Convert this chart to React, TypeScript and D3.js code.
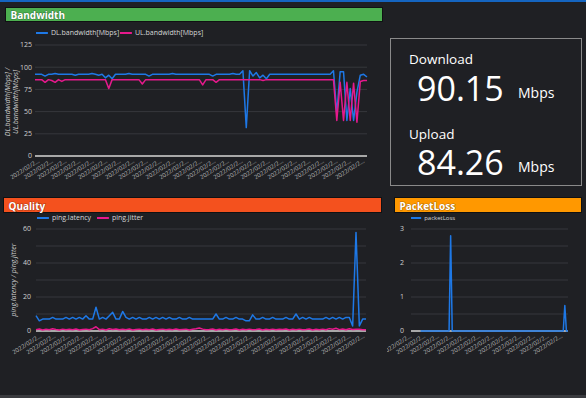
import React from "react";
import * as d3 from "d3";

// ---- Bandwidth (Mbps), one sample per point along the time axis
const dlBandwidth = [
  92, 92, 92, 90, 92, 92, 93, 92, 92, 92,
  92, 92, 91, 92, 92, 92, 92, 93, 92, 91,
  92, 88, 91, 87, 92, 92, 92, 92, 93, 92,
  92, 92, 92, 92, 90, 92, 92, 92, 92, 92,
  92, 93, 92, 92, 92, 92, 92, 92, 92, 92,
  92, 92, 92, 90, 92, 92, 92, 92, 92, 93,
  92, 92, 96, 32, 96, 90, 94, 88, 91, 87,
  92, 92, 92, 92, 92, 92, 92, 92, 92, 92,
  92, 92, 92, 92, 92, 92, 92, 92, 92, 96,
  48, 95, 95, 40, 76, 40, 72, 91, 92, 89,
];
const ulBandwidth = [
  86, 86, 86, 83, 86, 85, 83, 86, 84, 86,
  86, 86, 86, 86, 86, 86, 86, 86, 86, 86,
  86, 86, 76, 86, 86, 86, 86, 86, 86, 86,
  86, 86, 81, 86, 86, 86, 86, 86, 86, 86,
  86, 86, 86, 86, 86, 86, 86, 86, 86, 86,
  80, 86, 86, 86, 83, 86, 86, 86, 86, 86,
  86, 86, 86, 86, 86, 86, 86, 86, 85, 86,
  86, 86, 86, 86, 86, 86, 86, 86, 86, 86,
  86, 86, 86, 86, 86, 86, 86, 86, 86, 86,
  40, 83, 40, 83, 40, 82, 38, 84, 85, 85,
];
const bwTickLabels = [
  "2022/02/2…", "2022/02/2…", "2022/02/2…", "2022/02/2…", "2022/02/2…",
  "2022/02/2…", "2022/02/2…", "2022/02/2…", "2022/02/2…", "2022/02/2…",
  "2022/02/2…", "2022/02/2…", "2022/02/2…", "2022/02/2…", "2022/02/2…",
  "2022/02/2…", "2022/02/2…", "2022/02/2…", "2022/02/2…", "2022/02/2…",
  "2022/02/2…", "2022/02/2…", "2022/02/2…", "2022/02/2…", "2022/02/2…",
];

// ---- Quality (ms)
const pingLatency = [
  9, 6, 7, 7, 7, 8, 7, 7, 7, 8,
  7, 8, 7, 8, 7, 9, 7, 7, 14, 7,
  8, 7, 9, 11, 7, 7, 11.5, 8, 7, 8,
  7, 8, 7, 7, 8, 7, 8, 7, 8, 7,
  8, 7, 7, 8, 7, 7, 8, 7, 7, 7,
  7, 7, 7, 7, 10, 7, 7, 8, 7, 7,
  8, 7, 7, 6, 6, 9.5, 7, 7, 8, 7,
  7, 8, 7, 7, 7, 8, 7, 7, 10, 7,
  8, 7, 8, 7, 7, 7, 7, 8, 7, 8,
  7, 8, 7, 8, 8, 3, 58, 3, 7, 7,
];
const pingJitter = [
  0.8, 1.2, 0.6, 1.0, 0.7, 1.3, 0.9, 0.6, 1.1, 0.8,
  1.0, 0.7, 1.2, 0.6, 0.9, 1.1, 0.7, 1.4, 2.5, 0.8,
  1.1, 0.6, 1.3, 0.9, 1.2, 0.7, 1.0, 0.8, 1.2, 0.6,
  0.9, 1.1, 0.7, 1.0, 0.8, 1.2, 0.6, 0.9, 1.1, 0.7,
  1.0, 0.8, 1.2, 0.7, 0.9, 1.1, 0.6, 1.0, 1.3, 1.8,
  1.1, 0.7, 0.9, 1.2, 0.6, 1.0, 0.8, 1.1, 0.7, 0.9,
  1.2, 0.6, 1.0, 0.8, 1.1, 0.7, 0.9, 1.2, 0.6, 1.0,
  0.8, 1.1, 0.7, 1.0, 0.9, 1.2, 0.6, 1.0, 0.8, 1.1,
  0.7, 0.9, 1.2, 0.6, 1.0, 0.8, 1.1, 0.7, 1.4, 1.0,
  1.6, 0.8, 1.2, 0.7, 1.3, 0.9, 1.1, 1.0, 0.7, 0.8,
];
const qualityTickLabels = [
  "2022/02/2…", "2022/02/2…", "2022/02/2…", "2022/02/2…", "2022/02/2…", "2022/02/2…",
  "2022/02/2…", "2022/02/2…", "2022/02/2…", "2022/02/2…", "2022/02/2…", "2022/02/2…",
  "2022/02/2…", "2022/02/2…", "2022/02/2…", "2022/02/2…", "2022/02/2…", "2022/02/2…",
  "2022/02/2…", "2022/02/2…", "2022/02/2…", "2022/02/2…", "2022/02/2…", "2022/02/2…",
];

// ---- Packet loss (%), series starts a little after the axis start
const packetLoss = [
  null, null, null, null, null, null, 0, 0, 0, 0,
  0, 0, 0, 0, 0, 0, 0, 0, 0, 0,
  0, 0, 0, 0, 0, 2.8, 0, 0, 0, 0,
  0, 0, 0, 0, 0, 0, 0, 0, 0, 0,
  0, 0, 0, 0, 0, 0, 0, 0, 0, 0,
  0, 0, 0, 0, 0, 0, 0, 0, 0, 0,
  0, 0, 0, 0, 0, 0, 0, 0, 0, 0,
  0, 0, 0, 0, 0, 0, 0, 0, 0, 0,
  0, 0, 0, 0, 0, 0, 0, 0, 0, 0,
  0, 0, 0, 0, 0, 0, 0, 0.75, 0, 0,
];
const lossTickLabels = [
  "2022/02/2…", "2022/02/2…", "2022/02/2…", "2022/02/2…", "2022/02/2…", "2022/02/2…",
  "2022/02/2…", "2022/02/2…", "2022/02/2…", "2022/02/2…", "2022/02/2…", "2022/02/2…",
];

// ---- latest values
const statLabels = ["Download", "Upload"];
const statValues = [90.15, 84.26];
const statUnit = "Mbps";

const BG = "#1f2024";
const BLUE = "#1e78e6";
const PINK = "#e6198c";
const FONT = "'Open Sans', 'Noto Sans', sans-serif";

type Series = { name: string; values: (number | null)[]; color: string };

function Header({ x, y, w, h, color, label }) {
  return (
    <g>
      <rect x={x} y={y} width={w} height={h} fill={color} stroke="#101113" strokeWidth={1} />
      <text x={x + 5} y={y + h - 3} fill="#fff" fontSize={10} fontWeight={700} fontFamily={FONT}
        style={{ paintOrder: "stroke" }} stroke="rgba(0,0,0,0.35)" strokeWidth={1}>
        {label}
      </text>
    </g>
  );
}

function LineChart({ id, left, right, top, bottom, yMax, gridStep, labelStep, series, tickLabels,
  tickRange, yLabelX, legendY, legendX, legendFont = 7, titleLines, titleX, titleY, clipLeft,
  titleFont = 6.5, strokeW = 1.5 }) {
  const n = series[0].values.length;
  const x = d3.scaleLinear().domain([0, n - 1]).range([left, right]);
  const y = d3.scaleLinear().domain([0, yMax]).range([bottom, top]);
  const xt = d3.scalePoint<number>().domain(d3.range(tickLabels.length)).range(tickRange);
  const grid = d3.range(gridStep, yMax + 1e-9, gridStep);
  const yLabels = d3.range(0, yMax + 1e-9, labelStep);
  const line = d3.line<number | null>()
    .defined(d => d != null)
    .x((_, i) => x(i))
    .y(d => y(d as number));

  return (
    <g fontFamily={FONT}>
      <defs>
        <clipPath id={id}>
          <rect x={clipLeft} y={0} width={586 - clipLeft} height={398} />
        </clipPath>
      </defs>
      {grid.map(v => (
        <line key={v} x1={left} x2={right} y1={y(v)} y2={y(v)} stroke="#36373c" strokeWidth={1} />
      ))}
      <line x1={left} x2={right} y1={y(0)} y2={y(0)} stroke="#a8a8a8" strokeWidth={2} />
      {yLabels.map(v => (
        <text key={v} x={yLabelX} y={y(v)} dy="0.35em" textAnchor="end" fill="#cfcfcf" fontSize={7}>
          {d3.format("~g")(v)}
        </text>
      ))}
      <g clipPath={`url(#${id})`}>
        {tickLabels.map((t, i) => (
          <text key={i} transform={`translate(${xt(i)},${bottom + 6}) rotate(-32)`} textAnchor="end"
            fill="#bdbdbd" fontSize={6}>
            {t}
          </text>
        ))}
      </g>
      {series.map(s => (
        <path key={s.name} d={line(s.values) || ""} fill="none" stroke={s.color} strokeWidth={strokeW}
          strokeLinejoin="round" />
      ))}
      {series.map((s, i) => (
        <g key={s.name} transform={`translate(${legendX[i]},${legendY})`}>
          <line x1={0} x2={legendFont * 1.7} y1={0} y2={0} stroke={s.color} strokeWidth={2} />
          <text x={legendFont * 1.7 + 3} y={0} dy="0.35em" fill="#d6d6d6" fontSize={legendFont}>{s.name}</text>
        </g>
      ))}
      {titleLines && (
        <text transform={`translate(${titleX},${titleY}) rotate(-90)`} textAnchor="middle" fill="#cfcfcf"
          fontSize={titleFont} fontStyle="italic">
          {titleLines.map((l, i) => (
            <tspan key={i} x={0} dy={i === 0 ? 0 : 7.5}>{l}</tspan>
          ))}
        </text>
      )}
    </g>
  );
}

function StatPanel() {
  const rows = [
    { y: 64, vy: 101 },
    { y: 139, vy: 175 },
  ];
  return (
    <g fontFamily={FONT} fill="#fff">
      <rect x={390.5} y={38.5} width={191} height={147} fill="none" stroke="#8a8a8a" strokeWidth={1} />
      {statLabels.map((l, i) => (
        <g key={l}>
          <text x={409} y={rows[i].y} fontSize={13.5}>{l}</text>
          <text x={417} y={rows[i].vy} fontSize={34}>{d3.format(".2f")(statValues[i])}</text>
          <text x={518} y={rows[i].vy - 3} fontSize={14}>{statUnit}</text>
        </g>
      ))}
    </g>
  );
}

export default function App() {
  const bwSeries: Series[] = [
    { name: "DL.bandwidth[Mbps]", values: dlBandwidth, color: BLUE },
    { name: "UL.bandwidth[Mbps]", values: ulBandwidth, color: PINK },
  ];
  const qSeries: Series[] = [
    { name: "ping.latency", values: pingLatency, color: BLUE },
    { name: "ping.jitter", values: pingJitter, color: PINK },
  ];
  const lossSeries: Series[] = [{ name: "packetLoss", values: packetLoss, color: BLUE }];

  return (
    <svg width={586} height={398} style={{ position: "absolute", left: 0, top: 0, background: BG }}>
      <rect x={0} y={0} width={586} height={398} fill={BG} />
      <rect x={0} y={0} width={586} height={2} fill="#1565c0" />
      <rect x={0} y={395} width={586} height={3} fill="#3a3b3f" />

      <Header x={5.5} y={7.5} w={377} h={14} color="#4caf50" label="Bandwidth" />
      <LineChart id="bw" left={35} right={367} top={45} bottom={156} yMax={125} gridStep={25} labelStep={25}
        series={bwSeries} tickLabels={bwTickLabels} tickRange={[40, 365]} yLabelX={32}
        legendY={33} legendX={[36, 120]} titleLines={["DL.bandwidth[Mbps] /", "UL.bandwidth[Mbps]"]}
        titleX={10} titleY={102} titleFont={7} clipLeft={0} />

      <StatPanel />

      <Header x={3.5} y={197.5} w={378} h={15} color="#f4511e" label="Quality" />
      <LineChart id="q" left={36} right={366} top={229} bottom={331} yMax={60} gridStep={10} labelStep={20}
        series={qSeries} tickLabels={qualityTickLabels} tickRange={[42, 365]} yLabelX={31}
        legendY={218} legendX={[37, 97]} titleLines={["ping.latency / ping.jitter"]}
        titleX={16} titleY={280} titleFont={7} clipLeft={0} />

      <Header x={394.5} y={197.5} w={187} h={15} color="#ff9800" label="PacketLoss" />
      <LineChart id="pl" left={411} right={568} top={229} bottom={331} yMax={3} gridStep={0.5} labelStep={1}
        series={lossSeries} tickLabels={lossTickLabels} tickRange={[412, 563]} yLabelX={404}
        legendY={218} legendX={[411]} legendFont={6} clipLeft={387} />
    </svg>
  );
}
